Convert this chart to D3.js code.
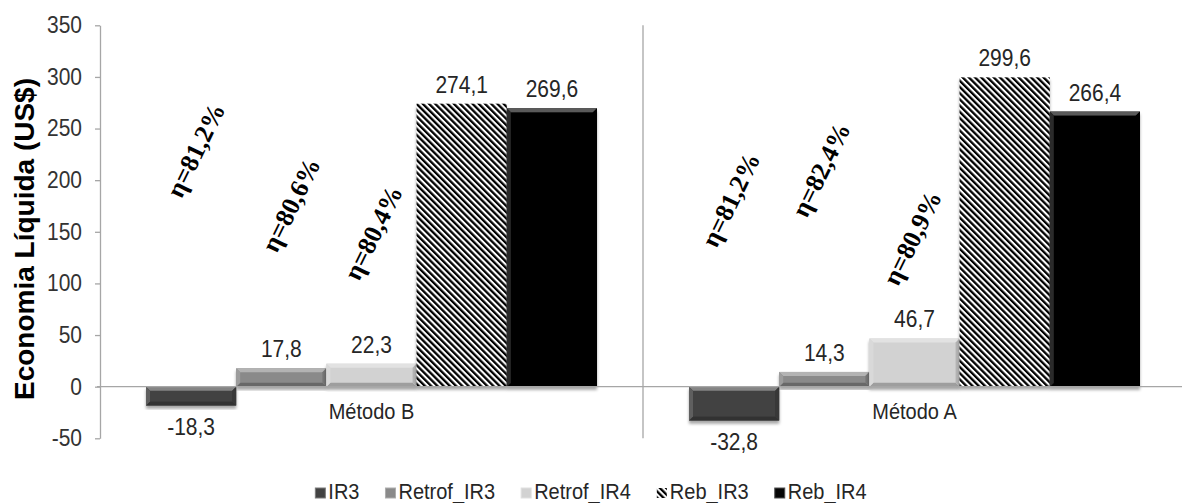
<!DOCTYPE html>
<html><head><meta charset="utf-8">
<script src="https://cdn.jsdelivr.net/npm/d3@7"></script>
<style>html,body{margin:0;padding:0;background:#fff;}svg{display:block;}</style>
</head><body>
<svg id="chart" width="1182" height="503"></svg>
<script>
// ---- data ----
const categories = ["Método B", "Método A"];
const series = ["IR3", "Retrof_IR3", "Retrof_IR4", "Reb_IR3", "Reb_IR4"];
const valuesMetodoB = [-18.3, 17.8, 22.3, 274.1, 269.6];
const valuesMetodoA = [-32.8, 14.3, 46.7, 299.6, 266.4];
const etaMetodoB = ["η=81,2%", "η=80,6%", "η=80,4%"];
const etaMetodoA = ["η=81,2%", "η=82,4%", "η=80,9%"];
const yTicks = [-50, 0, 50, 100, 150, 200, 250, 300, 350];
const yTitle = "Economia Líquida (US$)";

// ---- layout (not data) ----
const seriesColor = {IR3:"#424242", Retrof_IR3:"#8a8a8a", Retrof_IR4:"#d2d2d2", Reb_IR3:"hatch", Reb_IR4:"#060606"};
// eta label anchor: y in data units, x offset in px from bar centre
const etaLayoutB = [{dx:5, y:229}, {dx:10, y:176}, {dx:2, y:149}];
const etaLayoutA = [{dx:-3, y:181}, {dx:-3, y:210}, {dx:-2, y:144}];
const SY = 1.1; // vertical text stretch seen in the reference

const valuesByCat = {"Método B": valuesMetodoB, "Método A": valuesMetodoA};
const etaByCat = {"Método B": etaMetodoB, "Método A": etaMetodoA};
const etaLayoutByCat = {"Método B": etaLayoutB, "Método A": etaLayoutA};

const svg = d3.select("#chart");
const defs = svg.append("defs");
const pat = defs.append("pattern").attr("id","hatch").attr("patternUnits","userSpaceOnUse")
  .attr("width",4.4).attr("height",4.4).attr("patternTransform","rotate(-45)");
pat.append("rect").attr("width",4.4).attr("height",4.4).attr("fill","#fff");
pat.append("rect").attr("x",0).attr("width",2.3).attr("height",4.4).attr("fill","#000");
const f = defs.append("filter").attr("id","shadow").attr("x","-10%").attr("y","-10%").attr("width","120%").attr("height","130%");
f.append("feDropShadow").attr("dx",0).attr("dy",3).attr("stdDeviation",1.8).attr("flood-color","#000").attr("flood-opacity",0.35);

const x0 = d3.scaleBand().domain(categories).range([100, 1186]).paddingInner(0).paddingOuter(0);
const x1 = d3.scaleBand().domain(series).range([0, x0.bandwidth()]).paddingInner(0).paddingOuter(0.51);
const y = d3.scaleLinear().domain([-50, 350]).range([438.3, 25.3]);

const font = "'Liberation Sans', Arial, sans-serif";

function label(parent, x, yy, txt, size, anchor, fill, weight){
  return parent.append("text").attr("transform",`translate(${x},${yy}) scale(1,${SY})`)
    .attr("text-anchor",anchor||"middle").attr("font-family",font).attr("font-size",size)
    .attr("font-weight",weight||"normal").attr("fill",fill||"#262626").text(txt);
}

// y axis
const yAxis = d3.axisLeft(y).tickValues(yTicks).tickSize(5).tickSizeOuter(0).tickPadding(13).tickFormat(d=>String(d));
const gy = svg.append("g").attr("transform","translate(100,0)").call(yAxis);
gy.select(".domain").attr("stroke","#a6a6a6").attr("stroke-width",1.3);
gy.selectAll(".tick line").attr("stroke","#a6a6a6").attr("stroke-width",1.3);
gy.selectAll(".tick text").attr("font-family",font).attr("font-size",21).attr("fill","#333")
  .attr("transform",`scale(1,${SY})`);

// separator between categories
svg.append("line").attr("x1",x0("Método A")).attr("x2",x0("Método A")).attr("y1",y(350)).attr("y2",y(-50))
  .attr("stroke","#a6a6a6").attr("stroke-width",1.3);

// bars
function mix(c, t, a){ const A=d3.rgb(c), B=d3.rgb(t); return d3.rgb(A.r+(B.r-A.r)*a, A.g+(B.g-A.g)*a, A.b+(B.b-A.b)*a).toString(); }
const barsG = svg.append("g");
categories.forEach(cat=>{
  const vals = valuesByCat[cat];
  series.forEach((s,i)=>{
    const v = vals[i];
    const bx = x0(cat)+x1(s), bw = x1.bandwidth();
    const top = y(Math.max(0,v)), bot = y(Math.min(0,v));
    const h = bot-top;
    const g = barsG.append("g").attr("filter","url(#shadow)");
    const col = seriesColor[s];
    if (col === "hatch") {
      g.append("rect").attr("x",bx).attr("y",top).attr("width",bw).attr("height",h).attr("fill","url(#hatch)");
    } else {
      g.append("rect").attr("x",bx).attr("y",top).attr("width",bw).attr("height",h).attr("fill",col);
      const b = Math.min(4, h/2);
      const x2 = bx+bw, y2 = bot;
      const lighter = s==="Reb_IR4" ? "#5a5a5a" : mix(col,"#fff",0.35);
      const darker = mix(col,"#000",0.25);
      g.append("polygon").attr("points",[[bx,top],[x2,top],[x2-b,top+b],[bx+b,top+b]].join(" ")).attr("fill",lighter);
      g.append("polygon").attr("points",[[bx,y2],[x2,y2],[x2-b,y2-b],[bx+b,y2-b]].join(" ")).attr("fill",darker);
      g.append("polygon").attr("points",[[bx,top],[bx+b,top+b],[bx+b,y2-b],[bx,y2]].join(" ")).attr("fill",mix(col,"#fff",0.15));
      g.append("polygon").attr("points",[[x2,top],[x2-b,top+b],[x2-b,y2-b],[x2,y2]].join(" ")).attr("fill",mix(col,"#000",0.15));
    }
    const txt = v.toFixed(1).replace(".",",");
    label(svg, bx+bw/2, v>=0 ? top-11 : bot+29, txt, 21);
  });
});

// zero line
svg.append("line").attr("x1",97).attr("x2",1182).attr("y1",y(0)).attr("y2",y(0)).attr("stroke","#a6a6a6").attr("stroke-width",1.3);

// category labels
categories.forEach(cat=>{
  label(svg, x0(cat)+x0.bandwidth()/2, y(0)+32, cat, 20);
});

// eta annotations
categories.forEach(cat=>{
  etaByCat[cat].forEach((t,i)=>{
    const lay = etaLayoutByCat[cat][i];
    const cx = x0(cat)+x1(series[i])+x1.bandwidth()/2+lay.dx, cy = y(lay.y);
    svg.append("text").attr("transform",`translate(${cx},${cy}) rotate(-64)`)
      .attr("text-anchor","middle").attr("dominant-baseline","central")
      .attr("font-family","'Liberation Serif','Times New Roman',serif").attr("font-weight","bold").attr("font-size",26)
      .attr("fill","#000").text(t);
  });
});

// y title
svg.append("text").attr("transform","translate(24,239) rotate(-90)").attr("text-anchor","middle")
  .attr("dominant-baseline","central").attr("font-family",font).attr("font-weight","bold").attr("font-size",28)
  .attr("fill","#000").text(yTitle);

// legend
const lg = svg.append("g");
const items = [];
let cx = 0;
const gap = 26;
series.forEach(s=>{
  const it = lg.append("g");
  const col = seriesColor[s];
  if (col==="hatch") {
    it.append("rect").attr("x",0).attr("y",-11).attr("width",10).attr("height",10).attr("fill","url(#hatch)");
  } else {
    it.append("rect").attr("x",0).attr("y",-11).attr("width",10).attr("height",10).attr("fill",col).attr("stroke",mix(col,"#fff",0.3)).attr("stroke-width",1);
  }
  const t = it.append("text").attr("transform",`translate(13,0) scale(1,${SY})`).attr("font-family",font).attr("font-size",20).attr("fill","#262626").text(s);
  const w = 13 + t.node().getComputedTextLength();
  items.push({it, x:cx});
  cx += w + gap;
});
const total = cx - gap;
const startX = 591 - total/2;
items.forEach(d=>d.it.attr("transform",`translate(${startX+d.x},499)`));
</script>
</body></html>
